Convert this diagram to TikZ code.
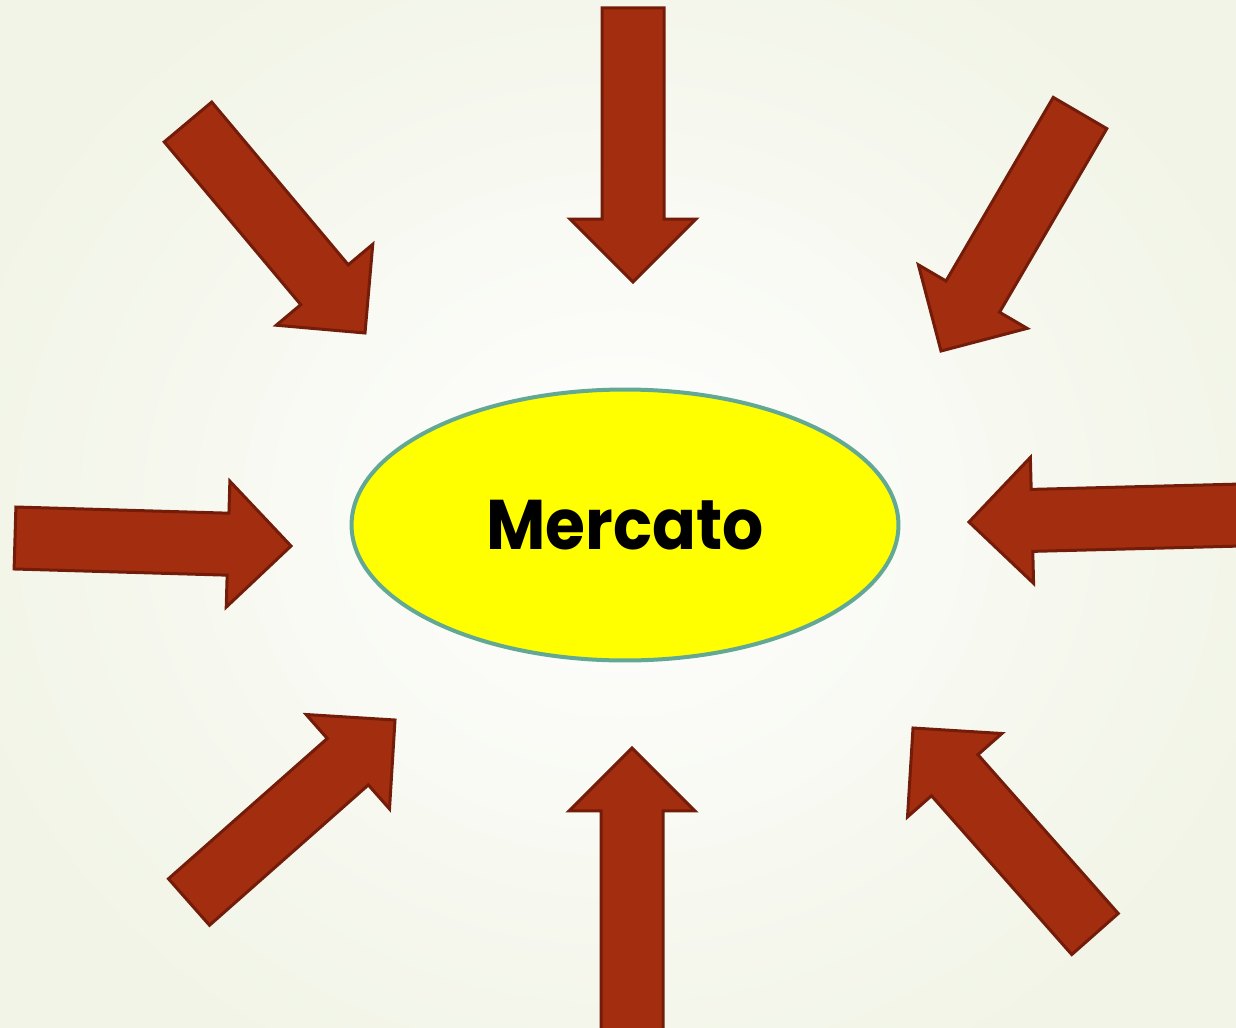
\documentclass[tikz,border=0pt]{standalone}
\usepackage{fontspec}
\newfontfamily\popfont{Poppins}
\usetikzlibrary{calc,shapes.geometric}
\definecolor{arrowfill}{RGB}{162,45,15}
\definecolor{arrowline}{RGB}{115,28,10}
\definecolor{ellline}{RGB}{98,168,148}
\definecolor{bgouter}{RGB}{241,244,230}
\definecolor{mktyellow}{RGB}{255,255,0}
\newcommand{\mybigarrow}[2]{%
  \coordinate (H) at ($(#2)!1.26cm!(#1)$);
  \draw[blockarr] ($(#1)!0.62cm!90:(#2)$) -- ($(H)!0.62cm!90:(#2)$) --
    ($(H)!1.26cm!90:(#2)$) -- (#2) -- ($(H)!1.26cm!-90:(#2)$) --
    ($(H)!0.62cm!-90:(#2)$) -- ($(#1)!0.62cm!-90:(#2)$) -- cycle;}
\begin{document}
\begin{tikzpicture}[x={(0.02cm,0)},y={(0,-0.02cm)},
  blockarr/.style={fill=arrowfill,draw=arrowline,line width=0.06cm,line join=miter},
  market/.style={ellipse,draw=ellline,line width=0.08cm,fill=mktyellow,
    minimum width=10.94cm,minimum height=5.42cm,inner sep=0pt,
    font=\popfont\bfseries\fontsize{40}{48}\selectfont}]
\useasboundingbox (0,0) rectangle (1236,1027);
\shade[inner color=white,outer color=bgouter] (-80,-120) rectangle (1316,1147);
% arrow end points
\coordinate (t1) at (633,8);    \coordinate (p1) at (633,282);
\coordinate (t2) at (1080,113); \coordinate (p2) at (941,351);
\coordinate (t3) at (1242,515); \coordinate (p3) at (969,522);
\coordinate (t4) at (1095,934); \coordinate (p4) at (913,728);
\coordinate (t5) at (632,1032); \coordinate (p5) at (632,748);
\coordinate (t6) at (189,902);  \coordinate (p6) at (395,720);
\coordinate (t7) at (15,538);   \coordinate (p7) at (291,546);
\coordinate (t8) at (188,122);  \coordinate (p8) at (365,333);
\mybigarrow{t1}{p1}
\mybigarrow{t2}{p2}
\mybigarrow{t3}{p3}
\mybigarrow{t4}{p4}
\mybigarrow{t5}{p5}
\mybigarrow{t6}{p6}
\mybigarrow{t7}{p7}
\mybigarrow{t8}{p8}
\node[market] (mkt) at (625,525) {\scalebox{0.92}[1]{Mercato}};
\end{tikzpicture}
\end{document}
